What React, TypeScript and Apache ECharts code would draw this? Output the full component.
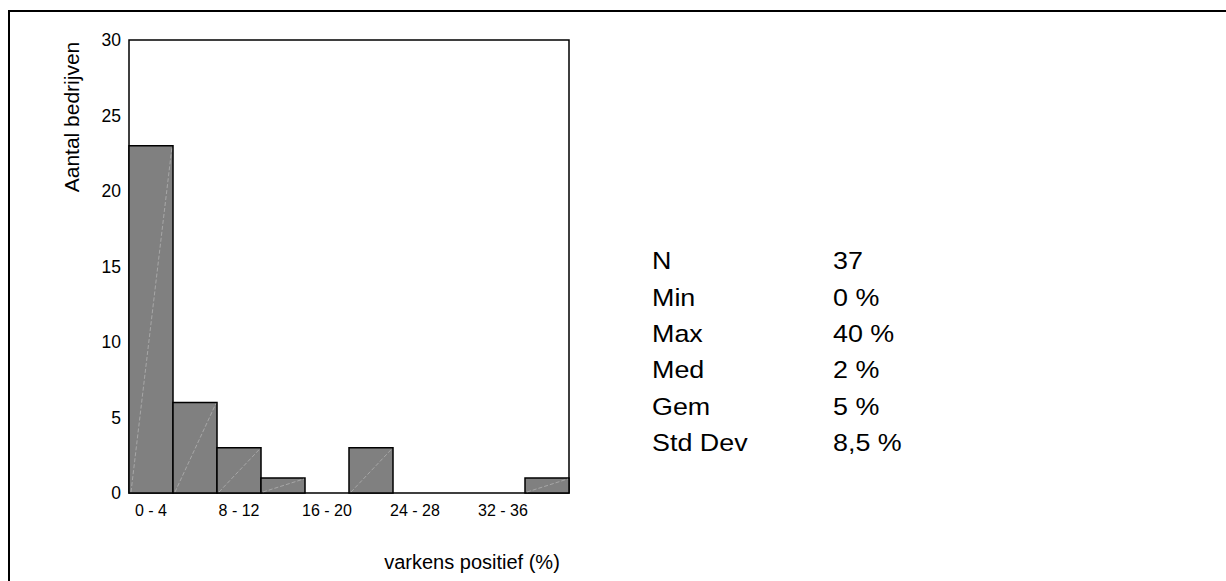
import React, { useEffect, useRef } from "react";
import * as echarts from "echarts";

const categories = ["0 - 4", "4 - 8", "8 - 12", "12 - 16", "16 - 20", "20 - 24", "24 - 28", "28 - 32", "32 - 36", "36 - 40"];
const counts = [23, 6, 3, 1, 0, 3, 0, 0, 0, 1];
const yTicks = { min: 0, max: 30, interval: 5 };
const statLabels = ["N", "Min", "Max", "Med", "Gem", "Std Dev"];
const statValues = ["37", "0 %", "40 %", "2 %", "5 %", "8,5 %"];
const xTitle = "varkens positief (%)";
const yTitle = "Aantal bedrijven";

const FONT = "'Liberation Sans', Arial, Helvetica, sans-serif";

export default function App() {
  const ref = useRef<HTMLDivElement>(null);
  useEffect(() => {
    if (!ref.current) return;
    const chart = echarts.init(ref.current, null, { renderer: "svg" });
    const statTexts: any[] = [];
    statLabels.forEach((l, i) => {
      const y = 261 + i * 36.3;
      statTexts.push({
        type: "text",
        x: 652,
        y,
        scaleX: 1.12,
        style: { text: l, font: `24px ${FONT}`, fill: "#000", textAlign: "left", textVerticalAlign: "middle", align: "left", verticalAlign: "middle" },
      });
      statTexts.push({
        type: "text",
        x: 833,
        y,
        scaleX: 1.12,
        style: { text: statValues[i], font: `24px ${FONT}`, fill: "#000", textAlign: "left", textVerticalAlign: "middle", align: "left", verticalAlign: "middle" },
      });
    });
    chart.setOption({
      animation: false,
      backgroundColor: "#fff",
      grid: {
        left: 129,
        top: 40,
        width: 440,
        height: 453,
        show: true,
        borderColor: "#000",
        borderWidth: 1.5,
        backgroundColor: "transparent",
      },
      xAxis: {
        type: "category",
        data: categories,
        boundaryGap: true,
        axisLine: { show: false },
        axisTick: { show: false },
        splitLine: { show: false },
        axisLabel: { interval: 1, color: "#000", fontSize: 16, fontFamily: FONT, margin: 9 },
      },
      yAxis: {
        type: "value",
        min: yTicks.min,
        max: yTicks.max,
        interval: yTicks.interval,
        axisLine: { show: false },
        axisTick: { show: false },
        splitLine: { show: false },
        axisLabel: { color: "#000", fontSize: 17.5, fontFamily: FONT, margin: 8 },
      },
      series: [
        {
          type: "custom",
          data: counts.map((v, i) => [i, v]),
          encode: { x: 0, y: 1 },
          renderItem: (params: any, api: any) => {
            const i = api.value(0);
            const v = api.value(1);
            if (!v) return { type: "group", children: [] };
            const p0 = api.coord([i, 0]);
            const p1 = api.coord([i, v]);
            const w = api.size([1, 0])[0];
            const x0 = p0[0] - w / 2;
            return {
              type: "group",
              children: [
                {
                  type: "rect",
                  shape: { x: x0, y: p1[1], width: w, height: p0[1] - p1[1] },
                  style: { fill: "#808080", stroke: "#000", lineWidth: 1.5 },
                },
                {
                  type: "line",
                  shape: { x1: x0 + 2, y1: p0[1] - 1, x2: x0 + w - 1, y2: p1[1] + 1 },
                  style: { stroke: "rgba(255,255,255,0.3)", lineWidth: 1, lineDash: [4, 2] },
                },
              ],
            };
          },
        },
      ],
      graphic: [
        {
          type: "line",
          shape: { x1: 8, y1: 11, x2: 1240, y2: 11 },
          style: { stroke: "#000", lineWidth: 2 },
          silent: true,
        },
        {
          type: "line",
          shape: { x1: 9, y1: 10, x2: 9, y2: 581 },
          style: { stroke: "#000", lineWidth: 2 },
          silent: true,
        },
        {
          type: "text",
          x: 71,
          y: 117,
          rotation: Math.PI / 2,
          style: { text: yTitle, font: `21px ${FONT}`, fill: "#000", textAlign: "center", textVerticalAlign: "middle", align: "center", verticalAlign: "middle" },
        },
        {
          type: "text",
          x: 472,
          y: 562,
          style: { text: xTitle, font: `20px ${FONT}`, fill: "#000", textAlign: "center", textVerticalAlign: "middle", align: "center", verticalAlign: "middle" },
        },
        ...statTexts,
      ],
    });
    return () => chart.dispose();
  }, []);
  return (
    <div
      ref={ref}
      style={{ position: "fixed", left: 0, top: 0, width: 1240, height: 581, background: "#fff" }}
    />
  );
}
